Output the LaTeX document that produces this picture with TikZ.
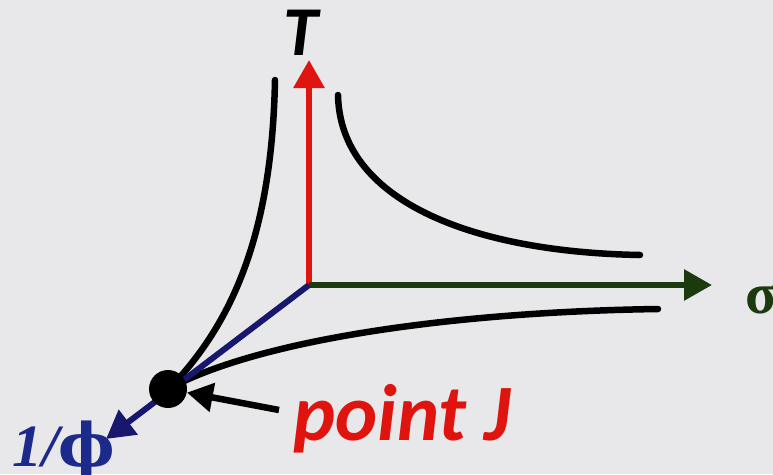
\documentclass[tikz,border=0pt]{standalone}
\usepackage{fontspec}
\setmainfont{Carlito}
\newfontfamily\calbi[BoldItalicFont={* Bold Italic}]{Carlito}
\newfontfamily\serifb{Liberation Serif}
\newfontfamily\dvserif{DejaVu Serif}
\usetikzlibrary{arrows.meta}
\definecolor{bgc}{HTML}{E8E7E9}
\definecolor{axred}{HTML}{E0150F}
\definecolor{axgreen}{HTML}{1B3A0E}
\definecolor{axblue}{HTML}{17176E}
\definecolor{lblblue}{HTML}{1C2A8C}
\definecolor{lblred}{HTML}{E0140E}
\tikzset{
  axis/.style={line width=6pt, -{Triangle[length=28pt,width=30pt]}},
  curve/.style={line width=6.5pt, black, line cap=round},
  pointer/.style={line width=6.5pt, black, -{Triangle[length=26pt,width=28pt]}},
  jdot/.style={circle, fill=black, minimum size=38pt, inner sep=0pt},
  lbl/.style={inner sep=0pt},
}
\begin{document}
\begin{tikzpicture}[x=1pt,y=-1pt]
\fill[bgc] (0,0) rectangle (773,474);
\useasboundingbox (0,0) rectangle (773,474);
\coordinate (O) at (309,285);
\coordinate (Ttip) at (309,60);
\coordinate (Stip) at (712,285);
\coordinate (Ptip) at (106,439);
\coordinate (ptr) at (279,410);
\coordinate (c1s) at (275,80);
\coordinate (c2s) at (338,95);
\coordinate (c2e) at (640,255);
\coordinate (c3e) at (658,309);
% curves
\draw[curve] (c1s) .. controls (272,230) and (235,320) .. (170,388);
\draw[curve] (c2s) .. controls (340,200) and (470,252) .. (c2e);
\draw[curve] (170,388) .. controls (260,340) and (450,312) .. (c3e);
% axes
\draw[axis, axred] (O) -- (Ttip);
\draw[axis, axgreen] (O) -- (Stip);
\draw[axis, axblue] (O) -- (Ptip);
% point J
\node[jdot] (J) at (168,389) {};
\draw[pointer] (ptr) -- (J);
% labels
\node[lbl, anchor=base] (Tl) at (301,55) {\fontsize{70}{70}\selectfont\calbi\bfseries\itshape T};
\node[lbl, anchor=base west] (sig) at (745,313) {\fontsize{58}{58}\selectfont\serifb\bfseries\color{axgreen}σ};
\node[lbl, anchor=base west] (phi) at (12,466) {\fontsize{60}{60}\selectfont\color{lblblue}\serifb\bfseries\itshape 1/\dvserif\bfseries\upshape ϕ};
\node[lbl, anchor=base west] (pj) at (293,440) {\fontsize{80}{80}\selectfont\calbi\bfseries\itshape\color{lblred}point J};
\end{tikzpicture}
\end{document}
